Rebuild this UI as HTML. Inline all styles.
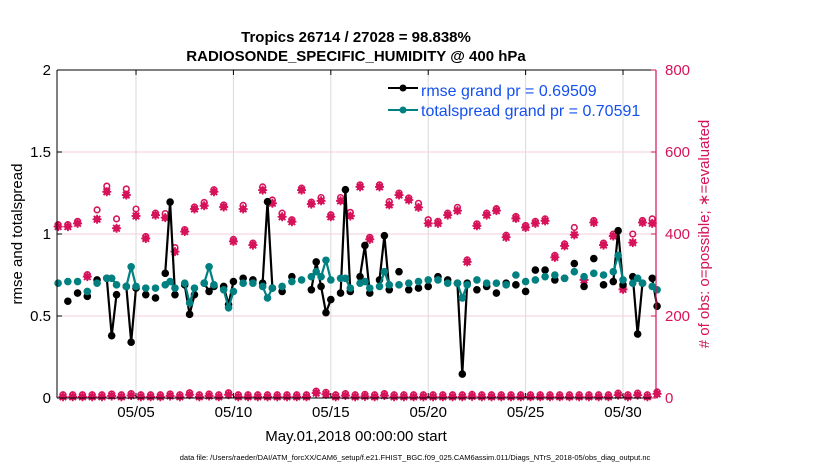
<!DOCTYPE html>
<html><head><meta charset="utf-8"><style>
body{margin:0;background:#fff;}
svg{display:block;font-family:"Liberation Sans",Arial,sans-serif;}
</style></head><body>
<svg id="chart" width="830" height="470" viewBox="0 0 830 470">
<g id="grid"></g>
<g id="marks"></g>
<g id="axes"></g>
<text x="356" y="42" text-anchor="middle" font-size="15" font-weight="bold">Tropics 26714 / 27028 = 98.838%</text>
<text x="356" y="61" text-anchor="middle" font-size="15" font-weight="bold">RADIOSONDE_SPECIFIC_HUMIDITY @ 400 hPa</text>
<text transform="translate(22,234) rotate(-90)" text-anchor="middle" font-size="15">rmse and totalspread</text>
<text transform="translate(709,234) rotate(-90)" text-anchor="middle" font-size="15" fill="#d6135a"># of obs: o=possible; ∗=evaluated</text>
<text x="356" y="441" text-anchor="middle" font-size="15">May.01,2018 00:00:00 start</text>
<text x="415" y="460" text-anchor="middle" font-size="7.5">data file: /Users/raeder/DAI/ATM_forcXX/CAM6_setup/f.e21.FHIST_BGC.f09_025.CAM6assim.011/Diags_NTrS_2018-05/obs_diag_output.nc</text>
<g>
<line x1="388" y1="88" x2="418" y2="88" stroke="#000" stroke-width="2"/>
<circle cx="403" cy="88" r="3.5" fill="#000"/>
<text x="421" y="96" font-size="16" fill="#1450f0">rmse grand pr = 0.69509</text>
<line x1="388" y1="110" x2="418" y2="110" stroke="#008080" stroke-width="2"/>
<circle cx="403" cy="110" r="3.5" fill="#008080"/>
<text x="421" y="116" font-size="16" fill="#1450f0">totalspread grand pr = 0.70591</text>
</g>
</svg>
<script>
const rmse = [null,null,0.59,null,0.64,null,0.62,null,0.72,null,
0.73,0.38,0.63,null,0.68,0.34,0.67,null,0.63,null,
0.61,null,0.76,1.195,0.63,null,0.69,0.51,0.63,null,
0.70,0.65,0.68,null,0.68,0.57,0.71,null,0.73,null,
0.72,null,0.70,1.197,0.67,null,0.65,null,0.74,null,
null,null,0.66,0.83,0.68,0.52,0.60,null,0.64,1.27,
0.65,null,0.74,0.93,0.64,null,0.72,0.99,0.66,null,
0.77,null,0.66,null,0.67,null,0.68,null,0.74,null,
0.72,null,0.70,0.146,0.70,null,0.66,null,0.68,null,
0.64,null,0.70,null,0.69,null,0.65,null,0.78,null,
0.78,null,0.72,null,0.73,null,0.82,null,0.68,null,
0.85,null,0.69,null,0.71,1.02,0.69,null,0.74,0.39,
0.70,null,0.73,0.56];
const spread = [0.70,null,0.71,null,0.71,null,0.65,null,0.70,null,
0.73,0.73,0.69,null,0.68,0.80,0.68,null,0.67,null,
0.67,null,0.69,0.71,0.67,null,0.70,0.58,0.67,null,
0.70,0.80,0.69,null,0.66,0.55,0.65,null,0.70,null,
0.70,null,0.68,0.61,0.67,null,0.68,null,0.71,null,
0.72,null,0.74,0.77,0.74,0.84,0.72,null,0.73,0.73,
0.67,null,0.70,0.71,0.67,null,0.68,0.77,0.69,null,
0.69,null,0.70,null,0.71,null,0.72,null,0.72,null,
0.70,null,0.70,0.61,0.69,null,0.72,null,0.70,null,
0.70,null,0.69,null,0.75,null,0.71,null,0.72,null,
0.74,null,0.75,null,0.73,null,0.77,null,0.74,null,
0.76,null,0.75,null,0.77,0.87,0.72,null,0.70,0.73,
0.70,null,0.68,0.66];
const evaluated = [418,3,418,3,426,3,296,3,436,3,
503,5,414,3,495,6,444,3,389,3,
446,3,440,5,357,3,406,8,461,3,
469,5,503,3,466,8,382,3,461,3,
373,3,507,3,475,3,442,3,430,3,
507,3,473,12,481,9,442,3,481,6,
444,3,515,4,387,3,515,6,471,3,
495,3,483,3,465,3,426,3,426,3,
446,3,457,3,332,4,420,3,446,3,
457,3,392,3,438,3,416,3,426,3,
432,3,343,3,371,3,398,3,288,3,
428,3,373,3,395,7,265,3,379,7,
428,3,426,10];
const possible = [418,3,418,3,426,3,296,3,454,3,
512,5,432,3,505,6,456,3,389,3,
446,3,445,5,362,3,406,8,461,3,
472,5,503,3,466,8,382,3,465,3,
373,3,510,3,478,3,446,3,430,3,
507,3,473,12,484,9,442,3,484,6,
448,3,515,4,387,3,515,6,474,3,
495,3,483,3,470,3,430,3,426,3,
446,3,460,3,332,4,420,3,446,3,
457,3,392,3,438,3,416,3,426,3,
432,3,343,3,371,3,411,3,288,3,
428,3,373,3,395,7,265,3,395,7,
428,3,432,10];
const xTickLabels = ["05/05","05/10","05/15","05/20","05/25","05/30"];
const xTickDays = [4,9,14,19,24,29];
const yLeftTicks = [0,0.5,1,1.5,2];
const yLeftLabels = ["0","0.5","1","1.5","2"];
const yRightTicks = [0,200,400,600,800];

const L=57,R=656,T=70,B=398, PINK="#d6135a";
const xDay = d => 58.1 + d*19.48;
const xSlot = i => xDay(i/4);
const yL = v => B - v*(B-T)/2;
const yR = v => B - v*(B-T)/800;
const NS="http://www.w3.org/2000/svg";
function mk(tag, attrs, parent){const e=document.createElementNS(NS,tag);for(const k in attrs)e.setAttribute(k,attrs[k]);parent.appendChild(e);return e;}
const grid=document.getElementById('grid'), marks=document.getElementById('marks'), axes=document.getElementById('axes');

xTickDays.forEach((d,i)=>{
  const g=mk('line',{x1:xDay(d),x2:xDay(d),y1:T,y2:B,stroke:'#d9d9d9','stroke-width':1},grid);
  
  
});
yRightTicks.forEach(v=>{
  if(v===0||v===800)return;
  const g=mk('line',{x1:L,x2:R,y1:yR(v),y2:yR(v),stroke:'#f6cfdc','stroke-width':1},grid);
  
  
});

function star(cx,cy,parent){
  const g=mk('g',{},parent);
  
  
  mk('circle',{cx:cx,cy:cy,r:3.4,fill:PINK},g);
  mk('path',{d:`M${cx-4.5} ${cy}H${cx+4.5}M${cx} ${cy-4.5}V${cy+4.5}M${cx-3.3} ${cy-3.3}L${cx+3.3} ${cy+3.3}M${cx-3.3} ${cy+3.3}L${cx+3.3} ${cy-3.3}`,stroke:PINK,'stroke-width':1.8},g);
}
possible.forEach((v,i)=>{
  if(v==null)return;
  const c=mk('circle',{cx:xSlot(i),cy:yR(v)-2,r:2.8,fill:'none',stroke:PINK,'stroke-width':1.6},marks);
  
  
});
evaluated.forEach((v,i)=>{ if(v!=null) star(xSlot(i),yR(v),marks); });

function series(vals,color,name){
  const g=mk('g',{},marks);
  
  
  let d='',pen=false;
  vals.forEach((v,i)=>{
    if(v==null){pen=false;return;}
    d+=(pen?'L':'M')+xSlot(i).toFixed(1)+' '+yL(v).toFixed(1);
    pen=true;
  });
  mk('path',{d:d,fill:'none',stroke:color,'stroke-width':2.2,'stroke-linejoin':'round'},g);
  vals.forEach((v,i)=>{
    if(v==null)return;
    const c=mk('circle',{cx:xSlot(i),cy:yL(v),r:3.8,fill:color},g);
    
    
  });
}
series(rmse,'#000','rmse-series');
series(spread,'#008080','totalspread-series');

mk('line',{x1:L,x2:R,y1:T,y2:T,stroke:'#000','stroke-width':1},axes);
mk('line',{x1:L,x2:R,y1:B,y2:B,stroke:'#000','stroke-width':1},axes);
mk('line',{x1:L,x2:L,y1:T,y2:B,stroke:'#000','stroke-width':1},axes);
mk('line',{x1:R,x2:R,y1:T,y2:B,stroke:PINK,'stroke-width':1.2},axes);
xTickDays.forEach((d,i)=>{
  mk('line',{x1:xDay(d),x2:xDay(d),y1:B,y2:B-5,stroke:'#000'},axes);
  mk('line',{x1:xDay(d),x2:xDay(d),y1:T,y2:T+5,stroke:'#000'},axes);
  const t=mk('text',{x:xDay(d),y:B+19,'text-anchor':'middle','font-size':15},axes);
  t.textContent=xTickLabels[i];
  
  
});
yLeftTicks.forEach((v,i)=>{
  mk('line',{x1:L,x2:L+5,y1:yL(v),y2:yL(v),stroke:'#000'},axes);
  const t=mk('text',{x:L-6,y:yL(v)+5,'text-anchor':'end','font-size':15},axes);
  t.textContent=yLeftLabels[i];
  
  
});
yRightTicks.forEach(v=>{
  mk('line',{x1:R-5,x2:R,y1:yR(v),y2:yR(v),stroke:PINK},axes);
  const t=mk('text',{x:R+9,y:yR(v)+5,'font-size':15,fill:PINK},axes);
  t.textContent=String(v);
  
  
});
</script>
</body></html>
